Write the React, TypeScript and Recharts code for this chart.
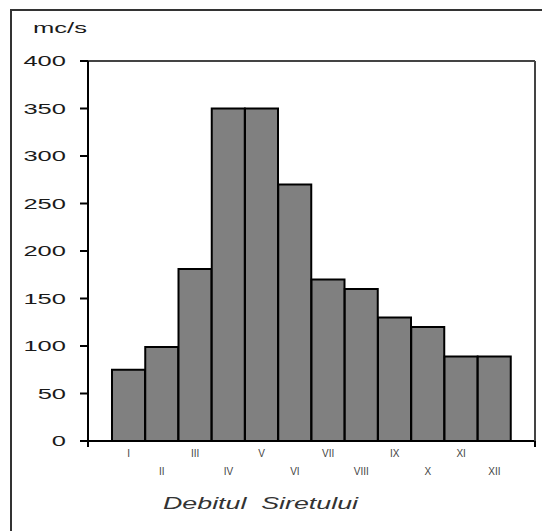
import { Bar, BarChart, ReferenceLine, XAxis, YAxis } from "recharts";

const months = ["I", "II", "III", "IV", "V", "VI", "VII", "VIII", "IX", "X", "XI", "XII"];
const flow = [75, 99, 181, 350, 350, 270, 170, 160, 130, 120, 89, 89];
const yTicks = [0, 50, 100, 150, 200, 250, 300, 350, 400];

const data = months.map((m, i) => ({ month: m, flow: flow[i] }));

const FONT = "'Liberation Sans', Arial, sans-serif";
const STRETCH = 1.7;

function YTick(props: any) {
  const { y, payload } = props;
  const label = String(payload.value);
  const len = label.length * 0.556 * 15 * STRETCH;
  return (
    <text
      x={66 - len}
      y={y}
      dy="0.36em"
      fontFamily={FONT}
      fontSize={15}
      fill="#1a1a1a"
      textLength={len}
      lengthAdjust="spacingAndGlyphs"
    >
      {label}
    </text>
  );
}

function XTick(props: any) {
  const { x, payload, index } = props;
  const y = index % 2 === 0 ? 453 : 471;
  return (
    <text x={x} y={y} textAnchor="middle" dy="0.35em" fontFamily={FONT} fontSize={10} fill="#444">
      {payload.value}
    </text>
  );
}

export default function App() {
  return (
    <div style={{ position: "fixed", left: 0, top: 0, width: 542, height: 531, background: "#fff" }}>
      <div
        style={{
          position: "absolute",
          left: 10,
          top: 9,
          right: 0,
          bottom: 0,
          borderTop: "2px solid #333",
          borderLeft: "2px solid #333",
        }}
      />
      <BarChart
        width={542}
        height={531}
        data={data}
        margin={{ top: 61, right: 5, bottom: 40, left: 28 }}
        barCategoryGap={0}
        barGap={0}
        style={{ position: "absolute", left: 0, top: 0 }}
      >
        <XAxis
          dataKey="month"
          height={50}
          padding={{ left: 24, right: 24 }}
          axisLine={{ stroke: "#000", strokeWidth: 2 }}
          tickLine={false}
          tick={<XTick />}
          interval={0}
        />
        <YAxis
          width={60}
          domain={[0, 400]}
          ticks={yTicks}
          axisLine={{ stroke: "#000", strokeWidth: 2 }}
          tickLine={{ stroke: "#000", strokeWidth: 2 }}
          tickSize={8}
          tick={<YTick />}
          interval={0}
        />
        <YAxis
          yAxisId="right"
          orientation="right"
          width={2}
          domain={[0, 400]}
          axisLine={{ stroke: "#444", strokeWidth: 2 }}
          tick={false}
          tickLine={false}
        />
        <ReferenceLine y={400} stroke="#444" strokeWidth={2} />
        <Bar dataKey="flow" fill="#808080" stroke="#000" strokeWidth={2} isAnimationActive={false} />
      </BarChart>
      <svg
        width={542}
        height={531}
        style={{ position: "absolute", left: 0, top: 0, pointerEvents: "none" }}
      >
        <line x1={88} y1={441} x2={88} y2={447} stroke="#000" strokeWidth={2} />
        <line x1={535} y1={441} x2={535} y2={447} stroke="#000" strokeWidth={2} />
        <text
          x={33}
          y={28}
          dy="0.35em"
          fontFamily={FONT}
          fontSize={15}
          fill="#1a1a1a"
          textLength={54}
          lengthAdjust="spacingAndGlyphs"
        >
          mc/s
        </text>
        <text
          x={163}
          y={503}
          dy="0.35em"
          fontFamily={FONT}
          fontSize={16}
          fontStyle="italic"
          fill="#333"
          textLength={195}
          lengthAdjust="spacingAndGlyphs"
          style={{ whiteSpace: "pre" }}
        >
          {"Debitul  Siretului"}
        </text>
      </svg>
    </div>
  );
}
